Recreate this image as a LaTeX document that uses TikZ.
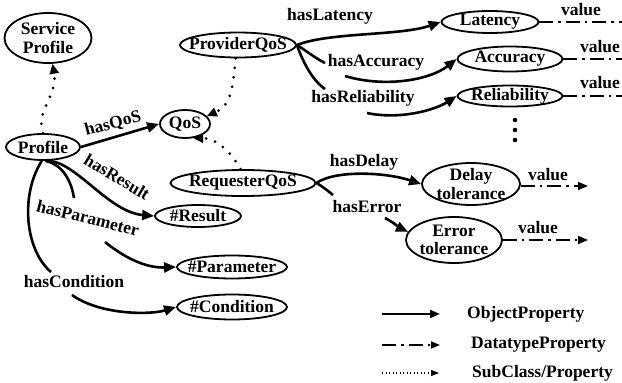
\documentclass[tikz,border=0pt]{standalone}
\usepackage{fontspec}
\setmainfont{Liberation Serif}
\usetikzlibrary{arrows.meta,shapes.geometric}
\begin{document}
\begin{tikzpicture}[x=1pt,y=-1pt,
  font=\fontsize{17.5}{18.5}\selectfont\bfseries,
  el/.style={draw,ellipse,line width=1.8pt,inner sep=0pt},
  txt/.style={inner sep=0pt,align=center},
  objl/.style={line width=2.6pt},
  obj/.style={line width=2.6pt,-{Triangle[length=12pt,width=10pt]}},
  sub/.style={line width=3pt,line cap=round,dash pattern=on 0pt off 9.5pt,-{Triangle[length=10pt,width=9pt]}},
  dtl/.style={line width=1.7pt,dash pattern=on 14pt off 5pt on 2.5pt off 5pt},
  dt/.style={dtl,-{Triangle[length=10pt,width=8pt]}}
]
\useasboundingbox (0,0) rectangle (622,383);

% ---------- nodes ----------
\node[el,minimum width=87pt,minimum height=50pt] (sp) at (48,38) {};
\node[txt] (spt) at (sp) {Service\\Profile};
\node[el,minimum width=116pt,minimum height=25pt] (pq) at (238,45) {};
\node[txt] (pqt) at (pq) {ProviderQoS};
\node[el,minimum width=97pt,minimum height=22pt] (lat) at (490,22) {};
\node[txt] (latt) at (lat) {Latency};
\node[el,minimum width=105pt,minimum height=25pt] (acc) at (510,59) {};
\node[txt] (acct) at (acc) {Accuracy};
\node[el,minimum width=105pt,minimum height=21pt] (rel) at (510,96) {};
\node[txt] (relt) at (rel) {Reliability};
\node[el,minimum width=50pt,minimum height=28pt] (qos) at (185,124) {};
\node[txt] (qost) at (qos) {QoS};
\node[el,minimum width=74pt,minimum height=26pt] (prof) at (43,147) {};
\node[txt] (proft) at (prof) {Profile};
\node[el,minimum width=145pt,minimum height=26pt] (rq) at (243,183) {};
\node[txt] (rqt) at (rq) {RequesterQoS};
\node[el,minimum width=98pt,minimum height=42pt] (del) at (471,184) {};
\node[txt] (delt) at (del) {Delay\\tolerance};
\node[el,minimum width=96pt,minimum height=46pt] (err) at (454,240) {};
\node[txt] (errt) at (err) {Error\\tolerance};
\node[el,minimum width=86pt,minimum height=22pt] (res) at (198,216) {};
\node[txt] (rest) at (res) {\#Result};
\node[el,minimum width=110pt,minimum height=23pt] (par) at (232,267) {};
\node[txt] (part) at (par) {\#Parameter};
\node[el,minimum width=110pt,minimum height=25pt] (con) at (232,307) {};
\node[txt] (cont) at (con) {\#Condition};

% ---------- subclass (dotted) ----------
\draw[sub] (prof.north) .. controls (35,112) and (58,95) .. (sp.-80);
\draw[sub] (pq.-100) .. controls (233,85) and (232,105) .. (qos.20);
\draw[sub] (rq.100) .. controls (230,150) and (215,138) .. (qos.-60);

% ---------- object properties ----------
\draw[obj] (prof.east) -- (qos.west);
\node[txt,rotate=15] (lqos) at (113,124) {hasQoS};

\draw[obj] (pq.east) .. controls (330,32) and (400,36) .. (lat.west);
\node[txt] (llat) at (330,16) {hasLatency};

\coordinate (a1) at (325,63);
\coordinate (a2) at (345,76);
\draw[objl] (pq.east) .. controls (305,50) and (315,58) .. (a1);
\draw[obj] (a2) .. controls (385,88) and (430,80) .. (acc.west);
\node[txt] (lacc) at (376,62) {hasAccuracy};

\coordinate (r1) at (325,89);
\coordinate (r2) at (367,113);
\draw[objl] (pq.east) .. controls (303,62) and (312,80) .. (r1);
\draw[obj] (r2) .. controls (400,120) and (435,110) .. (rel.west);
\node[txt] (lrel) at (363,98) {hasReliability};

\draw[obj] (rq.east) .. controls (335,170) and (385,172) .. (del.west);
\node[txt] (ldel) at (364,162) {hasDelay};

\coordinate (e1) at (333,195);
\coordinate (e2) at (385,218);
\draw[objl] (rq.east) .. controls (322,186) and (328,191) .. (e1);
\draw[obj] (e2) .. controls (393,222) and (400,228) .. (err.170);
\node[txt] (lerr) at (367,207) {hasError};

\draw[obj] (prof.-75) .. controls (75,160) and (108,212) .. (res.west);
\node[txt,rotate=-31] (lres) at (117,177) {hasResult};

\coordinate (p1) at (74,198);
\coordinate (p2) at (105,242);
\draw[objl] (prof.-80) .. controls (65,165) and (72,185) .. (p1);
\draw[obj] (p2) .. controls (130,262) and (150,268) .. (par.west);
\node[txt,rotate=-14] (lpar) at (88,218) {hasParameter};

\coordinate (c1) at (51,272);
\coordinate (c2) at (72,295);
\draw[objl] (prof.-95) .. controls (20,195) and (25,250) .. (c1);
\draw[obj] (c2) .. controls (100,315) and (150,315) .. (con.west);
\node[txt] (lcon) at (74,282) {hasCondition};

% ---------- datatype properties ----------
\coordinate (v1) at (630,22);
\coordinate (v2) at (630,59);
\coordinate (v3) at (630,96);
\coordinate (v4) at (588,186);
\coordinate (v5) at (588,240);
\draw[dtl] (lat.east) -- (v1);
\draw[dtl] (acc.east) -- (v2);
\draw[dtl] (rel.east) -- (v3);
\draw[dt] (del.east |- v4) -- (v4);
\draw[dt] (err.east) -- (v5);
\node[txt] (val1) at (581,10) {value};
\node[txt] (val2) at (600,47) {value};
\node[txt] (val3) at (600,83) {value};
\node[txt] (val4) at (548,175) {value};
\node[txt] (val5) at (538,228) {value};

% ---------- dots ----------
\foreach \yy in {120,130,140} \fill (515,\yy) circle (2.3pt);

% ---------- legend ----------
\coordinate (l1a) at (382,314); \coordinate (l1b) at (440,314);
\coordinate (l2a) at (382,345); \coordinate (l2b) at (440,345);
\coordinate (l3a) at (382,373); \coordinate (l3b) at (439,373);
\draw[line width=2pt,-{Triangle[length=10pt,width=8pt]}] (l1a) -- (l1b);
\draw[line width=1.7pt,dash pattern=on 14pt off 5pt on 2.5pt off 5pt,-{Triangle[length=9pt,width=7pt]}] (l2a) -- (l2b);
\draw[line width=1.1pt,dash pattern=on 1pt off 2.5pt,-{Triangle[length=8pt,width=6pt]}] (l3a) -- (l3b);
\node[txt,anchor=west] (lg1) at (467,314) {ObjectProperty};
\node[txt,anchor=west] (lg2) at (471,345) {DatatypeProperty};
\node[txt,anchor=west] (lg3) at (472,373) {SubClass/Property};
\end{tikzpicture}
\end{document}
